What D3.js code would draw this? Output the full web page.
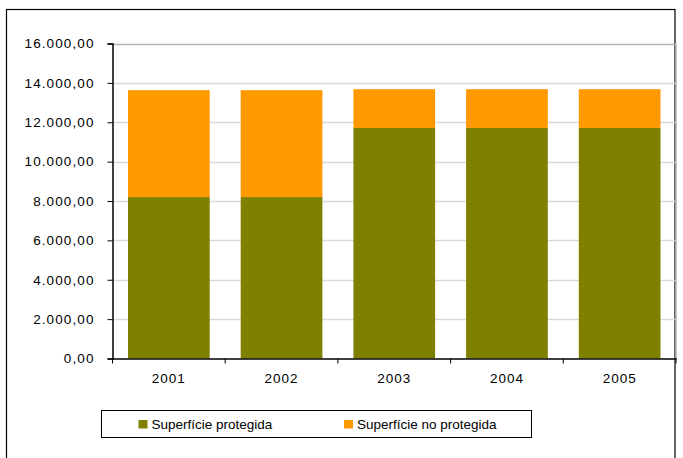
<!DOCTYPE html>
<html>
<head>
<meta charset="utf-8">
<script src="https://cdn.jsdelivr.net/npm/d3@7"></script>
<style>
html,body{margin:0;padding:0;background:#fff;}
svg{display:block;font-family:"Liberation Sans",Arial,sans-serif;}
</style>
</head>
<body>
<svg id="chart" width="683" height="458"></svg>
<script>
const years = ["2001","2002","2003","2004","2005"];
const protegida = [8200, 8200, 11710, 11710, 11710];
const noProtegida = [5430, 5430, 1970, 1970, 1970];
const yTicks = [0,2000,4000,6000,8000,10000,12000,14000,16000];
const seriesNames = ["Superfície protegida","Superfície no protegida"];
const colors = ["#808000","#FF9900"];

(function(){
const svg = d3.select("#chart");
// outer frame
svg.append("rect").attr("x",6.5).attr("y",9.5).attr("width",668.5).attr("height",460)
  .attr("fill","none").attr("stroke","#000").attr("stroke-width",1.2);

const pLeft=112.5, pRight=676, pTop=43.5, pBottom=358.5;
const x = d3.scaleBand().domain(years).range([pLeft,pRight]).paddingInner(0.275).paddingOuter(0.1375);
const y = d3.scaleLinear().domain([0,16000]).range([pBottom,pTop]);

const fmt = v => {
  const s = d3.format(",.2f")(v);
  return s.replace(/,/g,"#").replace(/\./g,",").replace(/#/g,".");
};

// gridlines
svg.append("g").selectAll("line").data(yTicks.filter(d=>d>0)).join("line")
  .attr("x1",pLeft).attr("x2",pRight).attr("y1",d=>Math.round(y(d))+0.5).attr("y2",d=>Math.round(y(d))+0.5)
  .attr("stroke",d=>d===16000?"#b4b4b4":"#d9d9d9").attr("stroke-width",1.5);
// right border of plot
svg.append("line").attr("x1",pRight).attr("x2",pRight).attr("y1",pTop).attr("y2",pBottom)
  .attr("stroke","#b4b4b4").attr("stroke-width",1.5);

const stacked = years.map((yr,i)=>({yr, vals:[protegida[i], noProtegida[i]]}));
const g = svg.append("g");
stacked.forEach(d=>{
  let base=0;
  d.vals.forEach((v,k)=>{
    g.append("rect").attr("x",x(d.yr)).attr("width",x.bandwidth())
      .attr("y",y(base+v)).attr("height",y(base)-y(base+v)).attr("fill",colors[k]);
    base+=v;
  });
});

// y axis
const yAxis = d3.axisLeft(y).tickValues(yTicks).tickFormat(fmt).tickSize(5).tickPadding(13);
const ya = svg.append("g").attr("transform",`translate(${pLeft},0)`).call(yAxis);
ya.select(".domain").attr("stroke","#000").attr("stroke-width",1.5);
ya.selectAll(".tick line").attr("stroke","#000");
ya.selectAll("text").attr("font-size",13.5).attr("letter-spacing","1.1px").attr("fill","#000")
  .attr("font-family","Liberation Sans, Arial, sans-serif");

// x axis
const xa = svg.append("g").attr("transform",`translate(0,${pBottom})`)
  .call(d3.axisBottom(x).tickSize(0).tickPadding(15));
xa.select(".domain").attr("stroke","#000").attr("stroke-width",1.5);
xa.selectAll("text").attr("font-size",13.5).attr("letter-spacing","1px").attr("fill","#000")
  .attr("font-family","Liberation Sans, Arial, sans-serif");
// category boundary ticks
const bounds = d3.range(years.length+1).map(i=>pLeft+i*(pRight-pLeft)/years.length);
svg.append("g").selectAll("line").data(bounds).join("line")
  .attr("x1",d=>d).attr("x2",d=>d).attr("y1",pBottom).attr("y2",pBottom+5)
  .attr("stroke","#000").attr("stroke-width",1);

// legend
const lg = svg.append("g");
lg.append("rect").attr("x",101.5).attr("y",410.5).attr("width",430).attr("height",27)
  .attr("fill","#fff").attr("stroke","#000").attr("stroke-width",1);
const legX = [138.5, 344];
seriesNames.forEach((n,i)=>{
  lg.append("rect").attr("x",legX[i]).attr("y",420).attr("width",9).attr("height",8.5).attr("fill",colors[i]);
  lg.append("text").attr("x",legX[i]+13).attr("y",428.5).attr("font-size",13.5).attr("fill","#000").text(n);
});
})();
</script>
</body>
</html>
